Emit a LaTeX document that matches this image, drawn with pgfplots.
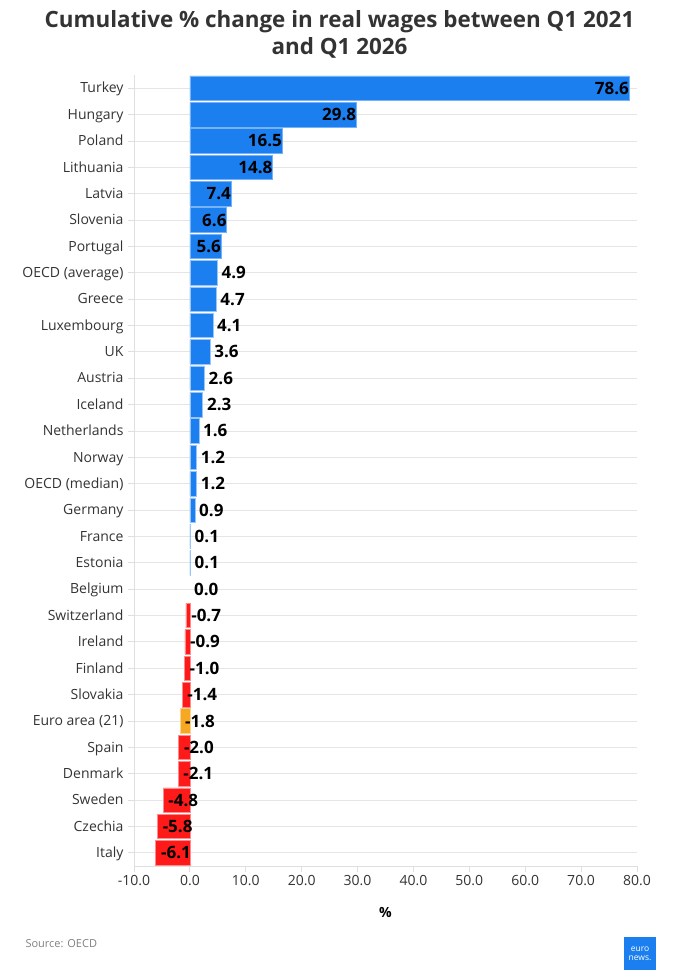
\documentclass[border=0pt]{standalone}
\usepackage{fontspec}
\setmainfont{Open Sans}
\usepackage{pgfplots}
\pgfplotsset{compat=1.18}
\definecolor{barblue}{HTML}{1C7FF0}
\definecolor{barred}{HTML}{FF1A1A}
\definecolor{barorange}{HTML}{F7A823}
\definecolor{txt}{HTML}{333333}
\begin{document}
\begin{tikzpicture}
\useasboundingbox (0,0) rectangle (679pt,974pt);
\begin{axis}[
  at={(134pt,108pt)}, anchor=south west,
  scale only axis, width=503pt, height=791pt,
  xbar, bar width=24.5pt, bar shift=0pt,
  xmin=-10, xmax=80, ymin=-0.5, ymax=29.5,
  y dir=reverse,
  axis lines*=left,
  axis line style={draw=gray!25, line width=0.8pt},
  xtick={-10,0,...,80},
  ytick={0,...,29},
  yticklabels={Turkey,Hungary,Poland,Lithuania,Latvia,Slovenia,Portugal,OECD (average),Greece,Luxembourg,UK,Austria,Iceland,Netherlands,Norway,OECD (median),Germany,France,Estonia,Belgium,Switzerland,Ireland,Finland,Slovakia,Euro area (21),Spain,Denmark,Sweden,Czechia,Italy},
  tick align=outside, major tick length=6pt,
  tick style={draw=gray!25, line width=0.8pt},
  ymajorgrids, grid style={draw=gray!20, line width=0.8pt},
  ticklabel style={font=\fontsize{14}{16}\selectfont, text=txt},
  yticklabel style={xshift=-1pt, yshift=-1.5pt, text height=10pt, text depth=3.5pt},
  /pgf/number format/.cd, fixed, fixed zerofill, precision=1, assume math mode=true,
  /pgfplots/.cd,
  point meta=x,
  nodes near coords,
  nodes near coords style={font=\bfseries\fontsize{17}{17}\selectfont, text=black, anchor=west, inner sep=0pt, xshift=4pt},
]
% blue, labels inside
\addplot[fill=barblue, draw=barblue!60!white, line width=0.6pt,
  nodes near coords style={anchor=east, xshift=-4pt}] coordinates {
(78.6,0) (29.8,1) (16.5,2) (14.8,3) (7.4,4) (6.6,5) (5.6,6)};
% blue, labels outside
\addplot[fill=barblue, draw=barblue!45!white, line width=0.6pt] coordinates {
(4.9,7) (4.7,8) (4.1,9) (3.6,10) (2.6,11) (2.3,12) (1.6,13) (1.2,14) (1.2,15) (0.9,16) (0.1,17) (0.1,18)};
% zero
\addplot[fill=none, draw=none] coordinates {(0.0,19)};
% red
\addplot[fill=barred, draw=barred!50!white, line width=0.6pt,
  nodes near coords style={xshift=1pt}] coordinates {
(-0.7,20) (-0.9,21) (-1.0,22) (-1.4,23) (-2.0,25) (-2.1,26) (-4.8,27) (-5.8,28) (-6.1,29)};
% orange
\addplot[fill=barorange, draw=barorange!50!white, line width=0.6pt,
  nodes near coords style={xshift=1pt}] coordinates {(-1.8,24)};
\end{axis}
\node[font=\bfseries\fontsize{22.4}{26}\selectfont, text=txt] at (339.5pt,952pt) {Cumulative \% change in real wages between Q1 2021};
\node[font=\bfseries\fontsize{22.4}{26}\selectfont, text=txt] at (339.5pt,926pt) {and Q1 2026};
\node[font=\bfseries\fontsize{14}{15}\selectfont, text=black] at (385.5pt,62pt) {\%};
\node[font=\fontsize{11}{12}\selectfont, text=gray, anchor=west] at (22pt,30pt) {Source: OECD};
\fill[barblue] (624pt,4pt) rectangle (656pt,37pt);
\node[font=\fontsize{8.5}{9.5}\selectfont, text=white, align=center, inner sep=0pt] at (640pt,20.5pt) {euro\\news.};
\end{tikzpicture}
\end{document}
